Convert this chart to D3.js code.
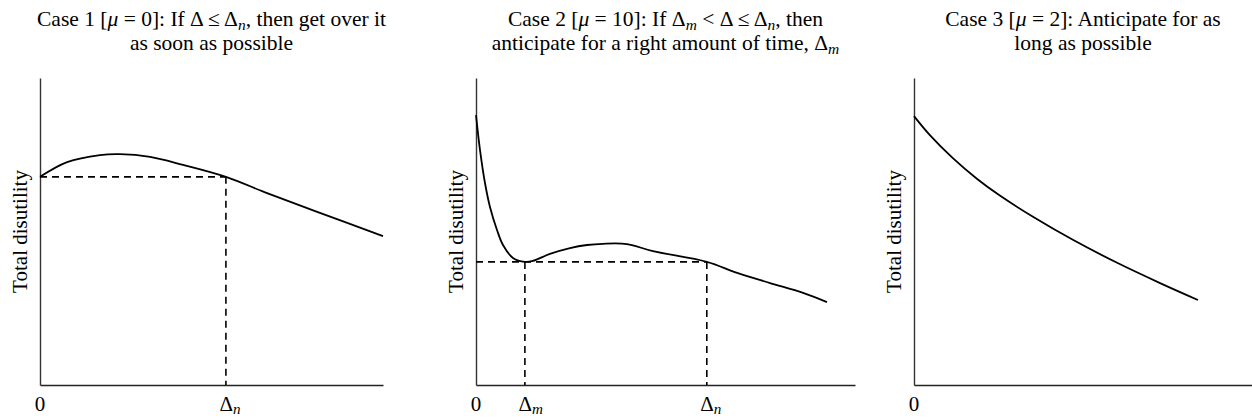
<!DOCTYPE html>
<html>
<head>
<meta charset="utf-8">
<script src="https://cdn.jsdelivr.net/npm/d3@7"></script>
<style>
  body { margin: 0; background: #fff; }
  svg text { font-family: "Liberation Serif", "Times New Roman", Times, "DejaVu Serif", serif; fill: #000; }
</style>
</head>
<body>
<div id="chart"></div>
<script>
// curve samples (x and y in 0..100 units of each panel)
const case1X = [0, 7.9, 17.5, 23.3, 32.1, 41.7, 54.2, 66.2, 80.8, 100];
const case1Y = [67.8, 72.6, 74.9, 75.2, 74.3, 71.7, 67.8, 62.5, 56.4, 48.5];

const case2X = [0, 1.06, 2.37, 3.69, 5.54, 7.12, 9.76, 12.9, 15.0, 19.5, 24.8, 29.3, 33.5, 39.8, 46.7, 60.9, 68.9, 77.6, 86.3, 92.6];
const case2Y = [87.9, 76.5, 65.8, 58.0, 50.5, 45.6, 41.4, 40.1, 40.4, 42.7, 44.6, 45.6, 46.0, 45.9, 43.6, 40.1, 36.5, 33.2, 30.0, 27.0];

const case3X = [0, 4.7, 11.5, 18.6, 25.4, 35.2, 47.0, 60.1, 72.8, 84.0];
const case3Y = [87.6, 81.4, 73.9, 67.2, 61.7, 54.8, 47.3, 39.8, 33.2, 27.7];

// x ticks and the level of the dashed guides
const case1Ticks = [0, 54.2];
const case1TickLabels = ["0", "Δ<sub>n</sub>"];
const case1Level = 67.8;

const case2Ticks = [0, 12.9, 60.9];
const case2TickLabels = ["0", "Δ<sub>m</sub>", "Δ<sub>n</sub>"];
const case2Level = 40.1;

const case3Ticks = [0];
const case3TickLabels = ["0"];

const titles = [
  ["Case 1 [<i>μ</i> = 0]: If Δ ≤ Δ<sub>n</sub>, then get over it", "as soon as possible"],
  ["Case 2 [<i>μ</i> = 10]: If Δ<sub>m</sub> &lt; Δ ≤ Δ<sub>n</sub>, then", "anticipate for a right amount of time, Δ<sub>m</sub>"],
  ["Case 3 [<i>μ</i> = 2]: Anticipate for as", "long as possible"]
];
const yLabel = "Total disutility";

const W = 1252, H = 418;
const axisTop = 78, axisBottom = 385;
const FONT = '"Liberation Serif", "Times New Roman", Times, "DejaVu Serif", serif';

const panels = [
  { x0: 40, x1: 383, xs: case1X, ys: case1Y, ticks: case1Ticks, labels: case1TickLabels, level: case1Level, title: titles[0] },
  { x0: 476, x1: 855, xs: case2X, ys: case2Y, ticks: case2Ticks, labels: case2TickLabels, level: case2Level, title: titles[1] },
  { x0: 914, x1: 1252, xs: case3X, ys: case3Y, ticks: case3Ticks, labels: case3TickLabels, level: null, title: titles[2] }
];

const svg = d3.select("#chart").append("svg")
  .attr("width", W)
  .attr("height", H)
  .attr("font-family", FONT);

// writes a string with <i> and <sub> bits into a text element
function richText(sel, str, size, sub) {
  const parts = str.replace(/&lt;/g, "<<LT>>").split(/(<i>.*?<\/i>|<sub>.*?<\/sub>)/).filter(s => s.length);
  let shifted = false;
  parts.forEach(p => {
    const fix = s => s.replace(/<<LT>>/g, "<");
    let ts;
    if (p.startsWith("<i>")) {
      ts = sel.append("tspan").attr("font-style", "italic").text(fix(p.slice(3, -4)));
      if (shifted) { ts.attr("dy", -sub); shifted = false; }
    } else if (p.startsWith("<sub>")) {
      ts = sel.append("tspan").attr("font-style", "italic")
        .attr("font-size", size * 0.72).attr("dy", sub).text(fix(p.slice(5, -6)));
      shifted = true;
    } else {
      ts = sel.append("tspan").text(fix(p));
      if (shifted) { ts.attr("dy", -sub); shifted = false; }
    }
  });
}

panels.forEach(p => {
  const x = d3.scaleLinear().domain([0, 100]).range([p.x0, p.x1]);
  const y = d3.scaleLinear().domain([0, 100]).range([axisBottom, axisTop]);
  const g = svg.append("g");

  // title
  p.title.forEach((line, i) => {
    const t = g.append("text")
      .attr("x", (p.x0 + p.x1) / 2)
      .attr("y", 26 + i * 24)
      .attr("text-anchor", "middle")
      .attr("font-family", FONT)
      .attr("font-size", 21.5);
    richText(t, line, 21.5, 4);
  });

  // axes: plain lines, no tick marks
  const xAxis = d3.axisBottom(x).tickValues([]).tickSizeOuter(0);
  g.append("g").attr("transform", `translate(0,${axisBottom})`).call(xAxis)
    .select(".domain").attr("stroke", "#222").attr("stroke-width", 1.4);
  const yAxis = d3.axisLeft(y).tickValues([]).tickSizeOuter(0);
  g.append("g").attr("transform", `translate(${p.x0},0)`).call(yAxis)
    .select(".domain").attr("stroke", "#333").attr("stroke-width", 1.4);

  // y label
  g.append("text")
    .attr("transform", `translate(${p.x0 - 13},${(axisTop + axisBottom) / 2}) rotate(-90)`)
    .attr("text-anchor", "middle")
    .attr("font-family", FONT)
    .attr("font-size", 21)
    .text(yLabel);

  // dashed guides
  if (p.level !== null) {
    const last = p.ticks[p.ticks.length - 1];
    g.append("line")
      .attr("x1", x(0)).attr("x2", x(last))
      .attr("y1", y(p.level)).attr("y2", y(p.level))
      .attr("stroke", "#000").attr("stroke-width", 1.6).attr("stroke-dasharray", "7,5");
    p.ticks.filter(t => t > 0).forEach(t => {
      g.append("line")
        .attr("x1", x(t)).attr("x2", x(t))
        .attr("y1", y(p.level)).attr("y2", axisBottom)
        .attr("stroke", "#000").attr("stroke-width", 1.6).attr("stroke-dasharray", "7,5");
    });
  }

  // curve
  const pts = p.xs.map((v, i) => [v, p.ys[i]]);
  g.append("path")
    .datum(pts)
    .attr("fill", "none")
    .attr("stroke", "#000")
    .attr("stroke-width", 1.8)
    .attr("d", d3.line().x(d => x(d[0])).y(d => y(d[1])).curve(d3.curveCatmullRom.alpha(0.5)));

  // tick labels
  p.ticks.forEach((t, i) => {
    const lab = p.labels[i];
    const txt = g.append("text")
      .attr("y", 411)
      .attr("font-family", FONT)
      .attr("font-size", 21);
    if (lab.startsWith("Δ")) {
      txt.attr("x", x(t) - 6.5);
      richText(txt, lab, 21, 2.5);
    } else {
      txt.attr("x", x(t)).attr("text-anchor", "middle").text(lab);
    }
  });
});
</script>
</body>
</html>
